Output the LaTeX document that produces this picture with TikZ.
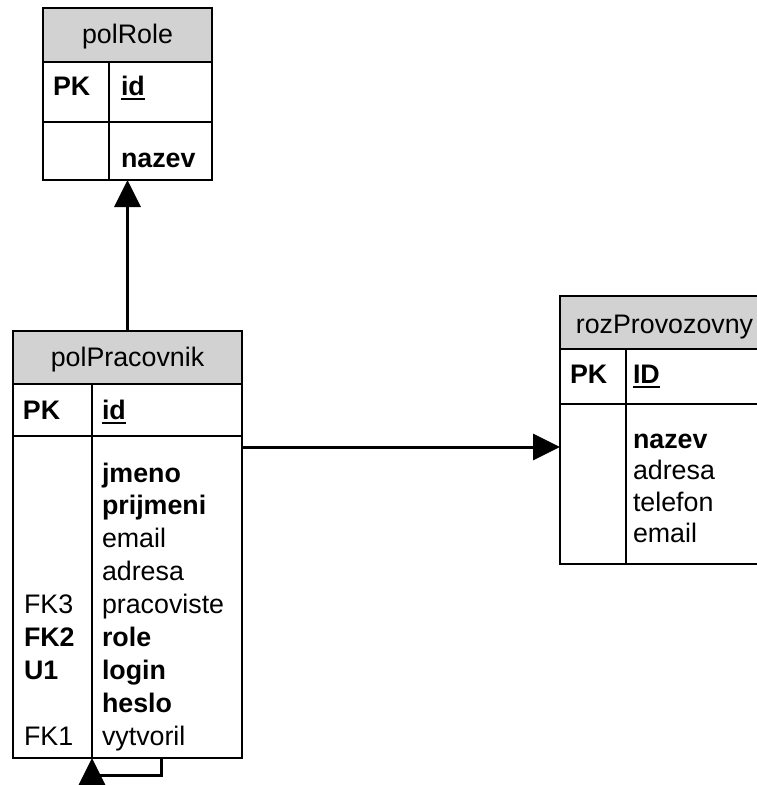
\documentclass[tikz,border=0pt]{standalone}
\usepackage{fontspec}
\setmainfont{Liberation Sans}
\usetikzlibrary{arrows.meta,calc}

\definecolor{headgray}{RGB}{210,210,210}

\tikzset{
  tablebox/.style={rectangle, inner sep=0pt, outer sep=0pt, anchor=north west},
  frame/.style={line width=1.6pt},
  headfill/.style={fill=headgray},
  link/.style={line width=3pt, -{Triangle[length=27pt,width=26pt]}},
  txt/.style={inner sep=0pt, outer sep=0pt, font=\fontsize{26.8}{31}\selectfont},
  head/.style={txt, anchor=base},
  fld/.style={txt, anchor=base west},
  uline/.style={line width=1.8pt},
}

\begin{document}
\begin{tikzpicture}[x=1pt, y=-1pt]
\useasboundingbox (0,0) rectangle (757,785);
\clip (0,0) rectangle (757,785);

% ---------- polRole ----------
\path node[tablebox, minimum width=169pt, minimum height=172pt] (polRole) at (43,8) {};
\fill[headfill] (polRole.north west) rectangle ([yshift=-54pt]polRole.north east);
\draw[frame] (polRole.north west) rectangle (polRole.south east);
\draw[frame] ([yshift=-54pt]polRole.north west) -- ([yshift=-54pt]polRole.north east);
\draw[frame] ([yshift=-114pt]polRole.north west) -- ([yshift=-114pt]polRole.north east);
\draw[frame] ([xshift=66pt,yshift=-54pt]polRole.north west) -- ([xshift=66pt]polRole.south west);
\node[head] (roleTitle) at (127.5,43) {polRole};
\node[fld] (rolePK) at (53,95) {\textbf{PK}};
\node[fld] (roleID) at (121,95) {\textbf{id}};
\draw[uline] ([yshift=-4pt]roleID.base west) -- ([yshift=-4pt]roleID.base east);
\node[fld] (roleNazev) at (121,167) {\textbf{nazev}};

% ---------- polPracovnik ----------
\path node[tablebox, minimum width=229pt, minimum height=427pt] (polPracovnik) at (13,331) {};
\fill[headfill] (polPracovnik.north west) rectangle ([yshift=-53pt]polPracovnik.north east);
\draw[frame] (polPracovnik.north west) rectangle (polPracovnik.south east);
\draw[frame] ([yshift=-53pt]polPracovnik.north west) -- ([yshift=-53pt]polPracovnik.north east);
\draw[frame] ([yshift=-105pt]polPracovnik.north west) -- ([yshift=-105pt]polPracovnik.north east);
\draw[frame] ([xshift=79pt,yshift=-53pt]polPracovnik.north west) -- ([xshift=79pt]polPracovnik.south west);
\node[head] (pracTitle) at (127.5,366) {polPracovnik};
\node[fld] (pracPK) at (23,419) {\textbf{PK}};
\node[fld] (pracID) at (102,419) {\textbf{id}};
\draw[uline] ([yshift=-4pt]pracID.base west) -- ([yshift=-4pt]pracID.base east);
\foreach \t [count=\i] in {\textbf{jmeno},\textbf{prijmeni},email,adresa,pracoviste,\textbf{role},\textbf{login},\textbf{heslo},vytvoril}
  \node[fld] (pracF\i) at (102,{482+32.9*(\i-1)}) {\t};
\node[fld] (pracK5) at (24,{482+32.9*4}) {FK3};
\node[fld] (pracK6) at (24,{482+32.9*5}) {\textbf{FK2}};
\node[fld] (pracK7) at (24,{482+32.9*6}) {\textbf{U1}};
\node[fld] (pracK9) at (24,{482+32.9*8}) {FK1};

% ---------- rozProvozovny ----------
\path node[tablebox, minimum width=209pt, minimum height=268pt] (rozProvozovny) at (560,296) {};
\fill[headfill] (rozProvozovny.north west) rectangle ([yshift=-53pt]rozProvozovny.north east);
\draw[frame] (rozProvozovny.north west) rectangle (rozProvozovny.south east);
\draw[frame] ([yshift=-53pt]rozProvozovny.north west) -- ([yshift=-53pt]rozProvozovny.north east);
\draw[frame] ([yshift=-108pt]rozProvozovny.north west) -- ([yshift=-108pt]rozProvozovny.north east);
\draw[frame] ([xshift=66pt,yshift=-53pt]rozProvozovny.north west) -- ([xshift=66pt]rozProvozovny.south west);
\node[head] (rozTitle) at (664.5,333) {rozProvozovny};
\node[fld] (rozPK) at (570,383) {\textbf{PK}};
\node[fld] (rozID) at (633,383) {\textbf{ID}};
\draw[uline] ([yshift=-4pt]rozID.base west) -- ([yshift=-4pt]rozID.base east);
\foreach \t [count=\i] in {\textbf{nazev},adresa,telefon,email}
  \node[fld] (rozF\i) at (633,{448+31.5*(\i-1)}) {\t};

% ---------- relationships ----------
\draw[link] (polPracovnik.north) -- (polRole.south);
\coordinate (fkrow) at (0,447);
\draw[link] (polPracovnik.east |- fkrow) -- (rozProvozovny.west |- fkrow);
\draw[link] ([xshift=148pt]polPracovnik.south west) -- ++(0,17)
  -| ([xshift=79pt]polPracovnik.south west);
\end{tikzpicture}
\end{document}
